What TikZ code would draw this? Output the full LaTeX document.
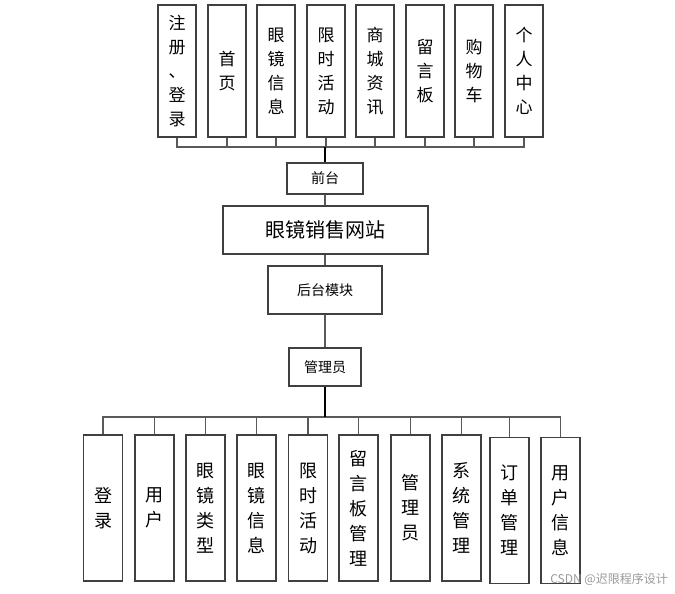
\documentclass[tikz,border=0pt]{standalone}
\usepackage{fontspec}
\setmainfont{Noto Sans CJK SC}
\begin{document}
\begin{tikzpicture}[x=1pt,y=-1pt,
  vbox/.style={draw=black!75,line width=1.1pt,inner sep=0pt,minimum width=38pt,minimum height=132pt,align=center,font=\fontsize{17}{24}\selectfont},
  bbox/.style={draw=black!75,line width=1.1pt,inner sep=0pt,minimum width=39pt,minimum height=146pt,align=center,font=\fontsize{18}{25}\selectfont},
  mbox/.style={draw=black!75,line width=1.1pt,inner sep=0pt,align=center},
  conn/.style={draw=black!65,line width=1.1pt},
  trunk/.style={draw=black,line width=1.4pt}]
\useasboundingbox (0,0) rectangle (675,594);
% top modules
\node[vbox] (t1) at (177,71) {注\\册\\、\\登\\录};
\node[vbox] (t2) at (227,71) {首\\页};
\node[vbox] (t3) at (276,71) {眼\\镜\\信\\息};
\node[vbox] (t4) at (326,71) {限\\时\\活\\动};
\node[vbox] (t5) at (375,71) {商\\城\\资\\讯};
\node[vbox] (t6) at (425,71) {留\\言\\板};
\node[vbox] (t7) at (474,71) {购\\物\\车};
\node[vbox] (t8) at (524,71) {个\\人\\中\\心};
\coordinate (tb) at (325,147);
\foreach \i in {1,...,8} {\draw[conn] (tb) -| (t\i.south);}
% middle
\node[mbox,minimum width=76pt,minimum height=31pt,font=\fontsize{14}{16}\selectfont] (qt) at (325,178.5) {前台};
\node[mbox,minimum width=205pt,minimum height=48pt,font=\fontsize{20}{22}\selectfont] (site) at (325.5,230) {眼镜销售网站};
\node[mbox,minimum width=114pt,minimum height=48pt,font=\fontsize{14}{16}\selectfont] (ht) at (325,290) {后台模块};
\node[mbox,minimum width=72pt,minimum height=38pt,font=\fontsize{14}{16}\selectfont] (adm) at (325,367) {管理员};
\draw[trunk] (qt.north) -- (tb);
\draw[conn] (qt.south) -- (site.north -| qt.south);
\draw[conn] (site.south -| ht.north) -- (ht.north);
\draw[conn] (ht.south) -- (adm.north);
% bottom modules
\node[bbox] (b1) at (103,508) {登\\录};
\node[bbox] (b2) at (154.5,508) {用\\户};
\node[bbox] (b3) at (205.5,508) {眼\\镜\\类\\型};
\node[bbox] (b4) at (256.5,508) {眼\\镜\\信\\息};
\node[bbox] (b5) at (308,508) {限\\时\\活\\动};
\node[bbox] (b6) at (358.5,508) {留\\言\\板\\管\\理};
\node[bbox] (b7) at (410.5,508) {管\\理\\员};
\node[bbox] (b8) at (461.5,508) {系\\统\\管\\理};
\node[bbox] (b9) at (509.5,510.5) {订\\单\\管\\理};
\node[bbox] (b10) at (560.5,510.5) {用\\户\\信\\息};
\coordinate (bb) at (325,417);
\foreach \i in {1,...,10} {\draw[conn] (bb) -| (b\i.north);}
\draw[trunk] (adm.south) -- (bb);
% watermark
\node[anchor=east,text=black!40,font=\fontsize{12}{14}\selectfont,inner sep=0pt] (wm) at (668,579) {CSDN @迟限程序设计};
\end{tikzpicture}
\end{document}
